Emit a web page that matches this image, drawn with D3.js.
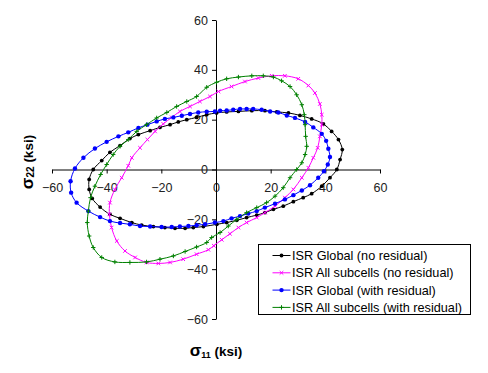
<!DOCTYPE html>
<html>
<head>
<meta charset="utf-8">
<script src="https://cdn.jsdelivr.net/npm/d3@7/dist/d3.min.js"></script>
<style>
  body { margin: 0; background: #fff; }
  svg { display: block; }
</style>
</head>
<body>
<svg id="chart" width="488" height="373"></svg>
<script>
// data (sigma11, sigma22 in ksi), each loop closed
const globalNoRes = [
  [46.2,8],[44.8,12],[42.3,15.3],[39.3,18.3],[35,20.3],[30.7,21.7],[26.5,22.7],[22.2,23.1],
  [17.9,23.6],[13.1,23.6],[8.2,23.3],[3.9,23.1],[0.2,22.7],[-3.4,22],[-7.1,20.9],[-10.7,20],
  [-13.8,19.1],[-16.8,18],[-20.5,16.9],[-24.1,15.6],[-28.4,14],[-31.5,12.4],[-35.1,9.6],
  [-38.8,6.9],[-41.8,3.6],[-44.9,0],[-46.4,-4],[-46.4,-8],[-45.3,-11.6],[-42.4,-15.1],
  [-38.8,-18],[-35.1,-19.6],[-30.8,-21.3],[-27.2,-22.3],[-22.9,-22.9],[-18.7,-23.3],
  [-15,-23.6],[-11.3,-23.6],[-8.3,-23.3],[-4.6,-22.9],[0.3,-22],[3.9,-21.3],[7.6,-20.4],
  [11.2,-19.3],[14.9,-18.3],[17.9,-17.3],[21,-16],[24.6,-14.7],[28.3,-12.9],[31.9,-11.3],
  [35,-9.7],[38.7,-6.7],[41.7,-3.3],[44.2,0],[45.4,4]
];
const subcellsNoRes = [
  [20.4,37.6],[25.2,37.6],[30.1,36.4],[33.8,33.7],[36.2,30.7],[38,26.3],[38.7,22],[38.7,18],
  [38,13.3],[37.2,8.7],[35.6,4.7],[33.8,0.7],[31.4,-3.3],[28.3,-8],[25.2,-11.3],[21.6,-14.7],
  [17.9,-17.3],[14.9,-19.3],[11.2,-21.3],[8.2,-23.3],[5.1,-25.8],[2.1,-28.2],[-0.8,-30.6],
  [-2.8,-32.2],[-7.1,-34],[-12,-36],[-16.8,-37.3],[-21.1,-37.7],[-25.4,-37.3],[-29.6,-35.3],
  [-33.3,-32.7],[-36.3,-28.7],[-38.2,-23.3],[-39,-18],[-38.8,-13.3],[-37,-8],[-34.5,-3.3],
  [-32.1,1.5],[-30.8,4.7],[-27.8,8.7],[-25.1,12],[-22.3,15.3],[-19.3,18.3],[-16.2,20.9],
  [-13.2,23.3],[-9.5,25.3],[-5.9,27.3],[-2.2,29.3],[0.9,31.3],[5.7,33.3],[10.6,35.3],[15.5,36.7]
];
const globalRes = [
  [41.7,5],[41.1,8.3],[40.3,11.5],[38.7,14.3],[35.6,16.9],[32.6,19.1],[28.9,20.7],[25.9,21.7],
  [22.8,22.9],[19.8,23.3],[16.7,24],[13.6,24.3],[11.2,24.3],[8.8,24.3],[6.3,24],[3.9,23.7],
  [1.5,23.6],[-0.4,23.3],[-3.4,23.2],[-6.5,22.9],[-9.5,22.3],[-12.5,21.6],[-15.6,20.9],
  [-18.7,20.3],[-21.7,19.3],[-25.1,18],[-28.4,16.7],[-32.1,14.9],[-35.7,13.3],[-40,11.1],
  [-44.3,8.4],[-48.5,4.7],[-51.6,0.4],[-53.2,-4.7],[-53,-9.3],[-51,-13.3],[-46.7,-16.7],
  [-42.4,-19.1],[-38.8,-20.7],[-35.1,-21.5],[-31.5,-22],[-27.8,-22.7],[-24.1,-22.9],
  [-19.9,-23.1],[-16.2,-23.1],[-13.2,-22.9],[-10.1,-22.7],[-7.1,-22.4],[-4,-22],[-0.4,-21.3],
  [2.7,-20.7],[5.7,-19.6],[8.8,-18.7],[11.8,-17.7],[14.9,-16.7],[17.9,-15.3],[21.6,-13.7],
  [25.2,-12],[28.3,-10.3],[31.4,-8.4],[34.4,-6.3],[37.4,-3.3],[39.5,-0.7],[40.9,2]
];
const subcellsRes = [
  [13.1,37.6],[17.3,37.6],[21,37.1],[24,35.6],[27.1,33.3],[29.5,30],[31.4,26],[32.3,22],
  [32.6,18],[32.8,13.3],[33.2,9.3],[32.6,6],[31.4,2.7],[29.5,0],[27.1,-3.3],[24.6,-7.3],
  [21.6,-10.7],[18.5,-13.3],[14.9,-15.3],[11.2,-17.3],[7.6,-20],[4.5,-22.7],[1.5,-25.3],
  [-1.6,-27.3],[-3.4,-29.3],[-7.1,-31.1],[-11.3,-32.9],[-15.6,-34.7],[-20.5,-36],[-25.4,-37.1],
  [-31.5,-37.3],[-37,-37.1],[-41.8,-35.3],[-44.9,-31.3],[-46.4,-26.7],[-47.1,-21.3],
  [-46.7,-16.7],[-45.9,-11.3],[-44.3,-6.7],[-42.2,-2],[-40,2],[-37.6,6],[-35.1,9.3],
  [-32.1,12],[-29,15.3],[-25.4,18],[-21.7,20.7],[-18,22.9],[-14.4,25.3],[-10.7,27.3],
  [-7.1,29.3],[-3.4,33],[0.2,35],[3.9,36.4],[8.2,37.1]
];
const seriesNames = [
  'ISR Global (no residual)',
  'ISR All subcells (no residual)',
  'ISR Global (with residual)',
  'ISR All subcells (with residual)'
];
const xTicks = [-60, -40, -20, 0, 20, 40, 60];
const yTicks = [-60, -40, -20, 0, 20, 40, 60];

const series = [
  { name: seriesNames[0], pts: globalNoRes,   color: '#000000', marker: 'dot',  r: 1.9 },
  { name: seriesNames[1], pts: subcellsNoRes, color: '#ff00ff', marker: 'x',    r: 1.8 },
  { name: seriesNames[2], pts: globalRes,     color: '#0000ff', marker: 'dot',  r: 2.2 },
  { name: seriesNames[3], pts: subcellsRes,   color: '#008000', marker: 'plus', r: 2.2 }
];

const svg = d3.select('#chart')
  .style('font-family', 'Arial, "Liberation Sans", sans-serif');

const x = d3.scaleLinear().domain([-60, 60]).range([52, 380]);
const y = d3.scaleLinear().domain([-60, 60]).range([319, 20]);

// axes through the origin
const xAxis = d3.axisBottom(x).tickValues(xTicks).tickSize(4).tickSizeOuter(0);
const yAxis = d3.axisLeft(y).tickValues(yTicks).tickSize(4).tickSizeOuter(0);

const gx = svg.append('g').attr('transform', `translate(0,${y(0)})`).call(xAxis);
const gy = svg.append('g').attr('transform', `translate(${x(0)},0)`).call(yAxis);

[gx, gy].forEach(g => {
  g.select('.domain').attr('stroke', '#000');
  g.selectAll('.tick line').attr('stroke', '#000');
  g.selectAll('.tick text')
    .attr('fill', '#222')
    .style('font-size', '12.5px')
    .style('font-family', 'Arial, "Liberation Sans", sans-serif');
});
gx.selectAll('.tick text').attr('dy', '1.2em');
gy.selectAll('.tick text').attr('x', -8);

// loops
const line = d3.line()
  .x(d => x(d[0]))
  .y(d => y(d[1]))
  .curve(d3.curveCatmullRomClosed.alpha(0.5));

function drawMarker(g, m, px, py, color, r) {
  if (m === 'dot') {
    g.append('circle').attr('cx', px).attr('cy', py).attr('r', r).attr('fill', color);
  } else if (m === 'x') {
    g.append('path')
      .attr('d', `M${px-r},${py-r}L${px+r},${py+r}M${px-r},${py+r}L${px+r},${py-r}`)
      .attr('stroke', color).attr('stroke-width', 1);
  } else {
    g.append('path')
      .attr('d', `M${px-r},${py}L${px+r},${py}M${px},${py-r}L${px},${py+r}`)
      .attr('stroke', color).attr('stroke-width', 1);
  }
}

const plot = svg.append('g');
series.forEach(s => {
  const g = plot.append('g');
  g.append('path')
    .datum(s.pts)
    .attr('d', line)
    .attr('fill', 'none')
    .attr('stroke', s.color)
    .attr('stroke-width', 1);
  s.pts.forEach(p => drawMarker(g, s.marker, x(p[0]), y(p[1]), s.color, s.r));
});

// axis titles
const xt = svg.append('text')
  .attr('x', 216).attr('y', 356)
  .attr('text-anchor', 'middle')
  .attr('font-weight', 'bold')
  .attr('font-size', 13.5);
xt.append('tspan').attr('font-size', 17).text('σ');
xt.append('tspan').attr('font-size', 9).attr('dy', 2).text('11');
xt.append('tspan').attr('dy', -2).text(' (ksi)');

const yt = svg.append('text')
  .attr('transform', 'translate(33,162) rotate(-90)')
  .attr('text-anchor', 'middle')
  .attr('font-weight', 'bold')
  .attr('font-size', 13.5);
yt.append('tspan').attr('font-size', 17).text('σ');
yt.append('tspan').attr('font-size', 10).attr('dy', 1).text('22');
yt.append('tspan').attr('dy', -1).text(' (ksi)');

// legend
const lg = svg.append('g').attr('transform', 'translate(258.5,244.5)');
lg.append('rect')
  .attr('width', 212).attr('height', 70)
  .attr('fill', '#fff').attr('stroke', '#000').attr('stroke-width', 1);
series.forEach((s, i) => {
  const cy = 11 + i * 17.3;
  lg.append('line')
    .attr('x1', 14).attr('x2', 32).attr('y1', cy).attr('y2', cy)
    .attr('stroke', s.color).attr('stroke-width', 1);
  drawMarker(lg, s.marker, 23, cy, s.color, s.r);
  lg.append('text')
    .attr('x', 33.5).attr('y', cy).attr('dy', '0.36em')
    .attr('font-size', 12.7).attr('fill', '#000')
    .text(s.name);
});
</script>
</body>
</html>
